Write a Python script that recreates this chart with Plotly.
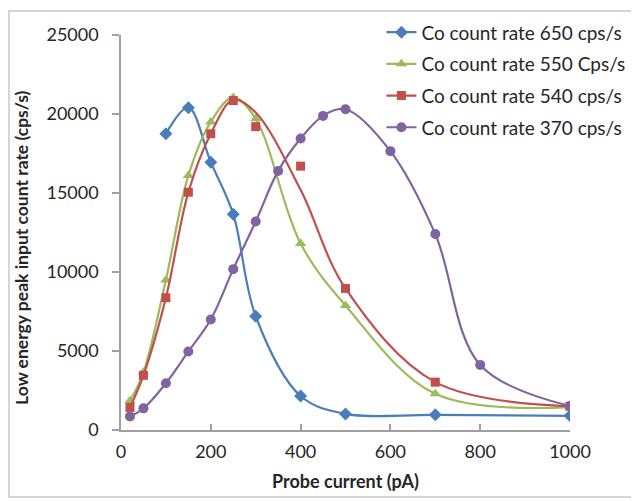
import plotly.graph_objects as go

# ---- data ----
x_650 = [100, 150, 200, 250, 300, 400, 500, 700, 1000]
y_650 = [18750, 20400, 16950, 13650, 7200, 2150, 1020, 960, 900]

x_550 = [20, 50, 100, 150, 200, 250, 300, 400, 500, 700, 1000]
y_550 = [1850, 3650, 9500, 16100, 19500, 21050, 19700, 11800, 7880, 2290, 1450]

x_540 = [20, 50, 100, 150, 200, 250, 300, 400, 500, 700, 1000]
y_540 = [1430, 3460, 8370, 15050, 18750, 20850, 19200, 16700, 8960, 3030, 1500]
# smoothed curve drawn for the 540 series (does not pass through the 300/400 points)
y_540_curve = [1430, 3460, 8370, 15050, 18750, 20900, 20100, 15200, 8960, 3030, 1500]

x_370 = [20, 50, 100, 150, 200, 250, 300, 350, 400, 450, 500, 600, 700, 800, 1000]
y_370 = [860, 1370, 2960, 4970, 6990, 10180, 13200, 16400, 18450, 19880, 20300, 17650, 12400, 4120, 1520]

names = ["Co count rate 650 cps/s", "Co count rate 550 Cps/s",
         "Co count rate 540 cps/s", "Co count rate 370 cps/s"]
x_title = "Probe current (pA)"
y_title = "Low energy peak input count rate (cps/s)"
x_ticks = [0, 200, 400, 600, 800, 1000]
y_ticks = [0, 5000, 10000, 15000, 20000, 25000]

BLUE = "#4A7EBB"
GREEN = "#9BBB59"
RED = "#C0504D"
PURPLE = "#8064A2"
FONT = "Lato"
TXT = "#262626"
AX = "#a0a0a0"

fig = go.Figure()

fig.add_trace(go.Scatter(x=x_650, y=y_650, name=names[0], mode="lines+markers",
                         line=dict(color=BLUE, width=2.2, shape="spline", smoothing=1),
                         marker=dict(symbol="diamond", size=10, color=BLUE),
                         legendgroup="a"))
fig.add_trace(go.Scatter(x=x_550, y=y_550, name=names[1], mode="lines+markers",
                         line=dict(color=GREEN, width=2.2, shape="spline", smoothing=1),
                         marker=dict(symbol="triangle-up", size=10, color=GREEN),
                         legendgroup="b"))
fig.add_trace(go.Scatter(x=x_540, y=y_540_curve, mode="lines", showlegend=False,
                         line=dict(color=RED, width=2.2, shape="spline", smoothing=1),
                         legendgroup="c", hoverinfo="skip"))
fig.add_trace(go.Scatter(x=x_540, y=y_540, mode="markers", showlegend=False,
                         marker=dict(symbol="square", size=9, color=RED),
                         legendgroup="c"))
fig.add_trace(go.Scatter(x=[None], y=[None], name=names[2], mode="lines+markers",
                         line=dict(color=RED, width=2.2),
                         marker=dict(symbol="square", size=9, color=RED),
                         legendgroup="c"))
fig.add_trace(go.Scatter(x=x_370, y=y_370, name=names[3], mode="lines+markers",
                         line=dict(color=PURPLE, width=2.2, shape="spline", smoothing=1),
                         marker=dict(symbol="circle", size=10, color=PURPLE),
                         legendgroup="d"))

axis_common = dict(showgrid=False, zeroline=False, showline=True, automargin=False,
                   linecolor=AX, linewidth=1.5,
                   tickfont=dict(family=FONT, size=18, color=TXT),
                   tickcolor=AX, tickwidth=1.5)

fig.update_layout(
    width=639, height=501,
    margin=dict(l=113, r=77, t=27, b=79, autoexpand=False),
    paper_bgcolor="white", plot_bgcolor="white",
    font=dict(family=FONT, color=TXT),
    xaxis=dict(range=[0, 1000], tickvals=x_ticks, ticktext=[str(v) for v in x_ticks],
               ticks="inside", ticklen=6, ticklabelstandoff=5, **axis_common),
    yaxis=dict(range=[0, 25000], tickvals=y_ticks, ticktext=[str(v) for v in y_ticks],
               ticks="outside", ticklen=7, ticklabelstandoff=10, **axis_common),
    legend=dict(x=0.58, y=1.055, xanchor="left", yanchor="top",
                font=dict(family=FONT, size=19, color=TXT),
                bgcolor="rgba(0,0,0,0)", tracegroupgap=4, itemwidth=30),
    annotations=[
        dict(text="<b>" + x_title + "</b>", xref="paper", yref="paper", x=0.5, y=-0.129,
             xanchor="center", yanchor="middle", showarrow=False,
             font=dict(family=FONT, size=18, color=TXT)),
        dict(text="<b>" + y_title + "</b>", xref="paper", yref="paper", x=-0.2205, y=0.461,
             xanchor="center", yanchor="middle", showarrow=False, textangle=-90,
             font=dict(family=FONT, size=17.5, color=TXT)),
    ],
    shapes=[dict(type="rect", xref="paper", yref="paper",
                 x0=-0.2495, x1=1.16, y0=-0.1696, y1=1.061,
                 line=dict(color="#c8c8c8", width=1.5), layer="above")],
)

fig.write_html("out.html")
